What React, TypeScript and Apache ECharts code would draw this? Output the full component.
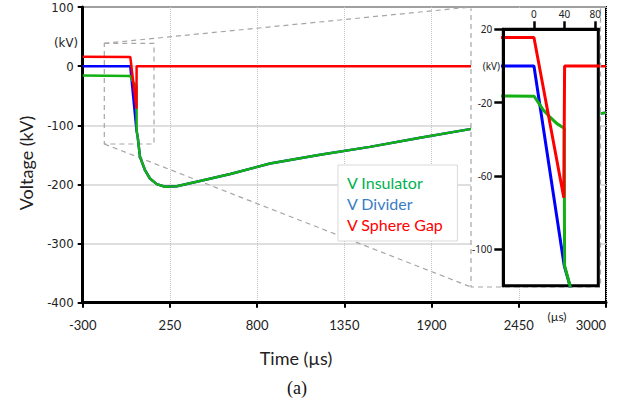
import React, { useEffect, useRef } from "react";
import * as echarts from "echarts";

// ---- data (time in µs, voltage in kV) ----
const insulatorTime = [-300, 0, 5, 12, 20, 30, 39.5];
const insulatorKV = [-16, -16.5, -19.5, -24, -27.5, -31.5, -34];
const dividerTime = [-300, 0, 39.5];
const dividerKV = [0, 0, -109];
// common tail of the impulse (insulator and divider overlap after breakdown)
const tailTime = [40, 47, 61, 93, 124, 167, 219, 293, 419, 631, 881, 1197, 1511, 1828, 2142, 3000];
const tailKV = [-109, -120, -153, -176, -190, -199.5, -204, -203, -195.5, -182.5, -164.5, -150, -136.5, -121, -106.5, -79];
const sphereGapTime = [-300, 0, 39, 40, 3000];
const sphereGapKV = [16, 15.5, -72, 0, 0];

const seriesNames = ["V Insulator", "V Divider", "V Sphere Gap"];
const seriesColors = ["#12b012", "#0000ff", "#ff0000"];
const legendColors = ["#00b050", "#3b7dc6", "#ff0000"];

const mainXMin = -300;
const mainXMax = 3000;
const mainXStep = 550;
const mainYMin = -400;
const mainYMax = 100;
const mainYStep = 100;

const insetXMin = -40;
const insetXMax = 84;
const insetYMin = -120;
const insetYMax = 20;
const insetXTicks = [0, 40, 80];
const insetYTicks = [20, -20, -60, -100];

const pairs = (t: number[], v: number[]) => t.map((x, i) => [x, v[i]]);

const insulatorData = [...pairs(insulatorTime, insulatorKV), ...pairs(tailTime, tailKV)];
const dividerData = [...pairs(dividerTime, dividerKV), ...pairs(tailTime, tailKV)];
const sphereGapData = pairs(sphereGapTime, sphereGapKV);

const NARROW = "'Liberation Sans Narrow', 'Arial Narrow', 'DejaVu Sans Condensed', sans-serif";
const SANS = "Lato, 'Open Sans', sans-serif";
const SMALL = "'Noto Sans', 'DejaVu Sans', sans-serif";
const plain = (v: number) => String(v);

export default function App() {
  const ref = useRef<HTMLDivElement>(null);
  useEffect(() => {
    if (!ref.current) return;
    const chart = echarts.init(ref.current, undefined, { renderer: "svg" });
    const dash = { stroke: "#a6a6a6", lineWidth: 1.2, lineDash: [5, 4], fill: null };
    const order = [1, 0, 2]; // divider, insulator, sphere gap (drawing order)
    const dataSets = [insulatorData, dividerData, sphereGapData];
    const mainSeries = order.map((i) => ({
      name: seriesNames[i],
      type: "line",
      xAxisIndex: 0,
      yAxisIndex: 0,
      data: dataSets[i],
      showSymbol: false,
      symbol: "none",
      lineStyle: { color: seriesColors[i], width: 2.5 },
      itemStyle: { color: seriesColors[i] },
      z: 2,
    }));
    const insetSeries = order.map((i) => ({
      name: seriesNames[i],
      type: "line",
      xAxisIndex: 1,
      yAxisIndex: 1,
      data: dataSets[i],
      showSymbol: false,
      symbol: "none",
      clip: true,
      lineStyle: { color: seriesColors[i], width: 3 },
      itemStyle: { color: seriesColors[i] },
      z: 11,
    }));
    chart.setOption({
      animation: false,
      backgroundColor: "#ffffff",
      grid: [
        {
          left: 82.7,
          top: 7,
          right: 18,
          bottom: 101.3,
          show: true,
          borderColor: "#000",
          borderWidth: 2,
          backgroundColor: "transparent",
        },
        {
          left: 503.3,
          top: 29.3,
          right: 25.7,
          bottom: 118.3,
          show: true,
          borderColor: "#000",
          borderWidth: 3,
          backgroundColor: "#ffffff",
          z: 10,
        },
      ],
      xAxis: [
        {
          gridIndex: 0,
          type: "value",
          min: mainXMin,
          max: mainXMax,
          interval: mainXStep,
          axisLine: { show: true, onZero: false, lineStyle: { color: "#000", width: 3 } },
          axisTick: { show: true, length: 5, lineStyle: { color: "#000", width: 2 } },
          axisLabel: {
            margin: 16,
            fontFamily: SANS,
            fontSize: 13,
            color: "#222",
            alignMaxLabel: "right",
            formatter: plain,
          },
          splitLine: { show: true, lineStyle: { color: "#c4c4c4", type: "dotted", width: 1 } },
        },
        {
          gridIndex: 1,
          type: "value",
          position: "top",
          min: insetXMin,
          max: insetXMax,
          z: 12,
          axisLine: { show: true, onZero: false, lineStyle: { color: "#000", width: 3 } },
          axisTick: { show: true, customValues: insetXTicks, length: 8, lineStyle: { color: "#000", width: 2.5 } },
          axisLabel: {
            customValues: insetXTicks,
            margin: 10,
            fontFamily: SMALL,
            fontSize: 10,
            color: "#222",
            formatter: plain,
          },
          splitLine: { show: false },
        },
      ],
      yAxis: [
        {
          gridIndex: 0,
          type: "value",
          min: mainYMin,
          max: mainYMax,
          interval: mainYStep,
          axisLine: { show: true, onZero: false, lineStyle: { color: "#000", width: 3 } },
          axisTick: { show: true, length: 5, lineStyle: { color: "#000", width: 2 } },
          axisLabel: { margin: 9, fontFamily: NARROW, fontSize: 13, color: "#222", formatter: plain },
          splitLine: { show: true, lineStyle: { color: "#d4d4d4", width: 1.5 } },
        },
        {
          gridIndex: 1,
          type: "value",
          min: insetYMin,
          max: insetYMax,
          z: 12,
          axisLine: { show: true, onZero: false, lineStyle: { color: "#000", width: 3 } },
          axisTick: { show: true, customValues: insetYTicks, length: 9, lineStyle: { color: "#000", width: 2.5 } },
          axisLabel: {
            customValues: insetYTicks,
            margin: 11,
            fontFamily: SMALL,
            fontSize: 10,
            color: "#222",
            formatter: plain,
          },
          splitLine: { show: false },
        },
      ],
      legend: {
        data: seriesNames.map((n, i) => ({ name: n, textStyle: { color: legendColors[i] } })),
        orient: "vertical",
        left: 338,
        top: 165,
        icon: "none",
        itemWidth: 0,
        itemHeight: 14,
        itemGap: 0,
        selectedMode: false,
        backgroundColor: "#ffffff",
        borderColor: "#d9d9d9",
        borderWidth: 1,
        borderRadius: 0,
        padding: [7, 14, 6, 4],
        textStyle: { fontFamily: SANS, fontSize: 16, lineHeight: 21 },
        z: 6,
      },
      graphic: [
        // magnified region (white, dashed outline)
        { type: "rect", z: 5, shape: { x: 471, y: 8.5, width: 129.5, height: 278.5 }, style: { fill: "#ffffff" } },
        {
          type: "polyline",
          z: 5,
          shape: { points: [[600.5, 8.5], [600.5, 287], [471, 287], [471, 8.5]] },
          style: dash,
        },
        // zoom box around the front
        { type: "rect", z: 1, shape: { x: 104.3, y: 43.3, width: 49.7, height: 100.7 }, style: dash },
        { type: "line", z: 1, shape: { x1: 104.3, y1: 43.3, x2: 471, y2: 7 }, style: dash },
        { type: "line", z: 1, shape: { x1: 104.3, y1: 144, x2: 471, y2: 287 }, style: dash },
        // texts
        {
          type: "text",
          z: 3,
          x: 66,
          y: 42,
          style: { text: "(kV)", font: `13px ${NARROW}`, fill: "#222", align: "center", verticalAlign: "middle" },
        },
        {
          type: "text",
          z: 20,
          x: 500,
          y: 65.7,
          style: { text: "(kV)", font: `10px ${SMALL}`, fill: "#222", align: "right", verticalAlign: "middle" },
        },
        {
          type: "text",
          z: 3,
          x: 557,
          y: 316,
          style: { text: "(µs)", font: `12px ${SANS}`, fill: "#222", align: "center", verticalAlign: "middle" },
        },
        {
          type: "text",
          z: 3,
          x: 26,
          y: 163,
          rotation: Math.PI / 2,
          style: { text: "Voltage (kV)", font: `18px ${SANS}`, fill: "#222", align: "center", verticalAlign: "middle" },
        },
        {
          type: "text",
          z: 3,
          x: 296,
          y: 358,
          style: { text: "Time (µs)", font: `18px ${SANS}`, fill: "#222", align: "center", verticalAlign: "middle" },
        },
        {
          type: "text",
          z: 3,
          x: 297,
          y: 388,
          style: {
            text: "(a)",
            font: `18px 'Liberation Serif', 'DejaVu Serif', serif`,
            fill: "#111",
            align: "center",
            verticalAlign: "middle",
          },
        },
      ],
      series: [...mainSeries, ...insetSeries],
    });
    return () => chart.dispose();
  }, []);
  return (
    <div
      ref={ref}
      style={{ position: "fixed", left: 0, top: 0, width: 624, height: 404, background: "#fff" }}
    />
  );
}
